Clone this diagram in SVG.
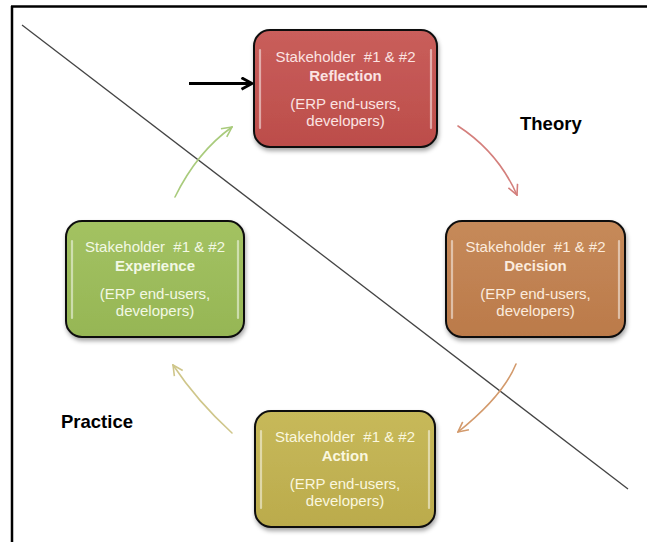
<svg xmlns="http://www.w3.org/2000/svg" width="647" height="542" viewBox="0 0 647 542">
<defs>
<style>
.node rect.box{stroke:#111;stroke-width:2}
.hl{stroke:#fff;stroke-width:2.2;stroke-linecap:round;opacity:0.5;fill:none}
.t{font-family:"Liberation Sans",Arial,sans-serif;font-size:15px;text-anchor:middle;white-space:pre}
.b{font-weight:bold}
.lbl{font-family:"Liberation Sans",Arial,sans-serif;font-size:18.5px;font-weight:bold;fill:#000}
.conn{fill:none;stroke-width:1.6;stroke-linecap:round}
</style>
<filter id="sh" x="-10%" y="-10%" width="125%" height="130%">
<feDropShadow dx="1" dy="3" stdDeviation="2" flood-color="#000" flood-opacity="0.35"/>
</filter>
<linearGradient id="gR" x1="0" y1="0" x2="0" y2="1"><stop offset="0" stop-color="#C95E5B"/><stop offset="1" stop-color="#BC4D4A"/></linearGradient>
<linearGradient id="gD" x1="0" y1="0" x2="0" y2="1"><stop offset="0" stop-color="#C68A5A"/><stop offset="1" stop-color="#BB7A4A"/></linearGradient>
<linearGradient id="gE" x1="0" y1="0" x2="0" y2="1"><stop offset="0" stop-color="#A3C262"/><stop offset="1" stop-color="#96B655"/></linearGradient>
<linearGradient id="gA" x1="0" y1="0" x2="0" y2="1"><stop offset="0" stop-color="#C7B95A"/><stop offset="1" stop-color="#BBAB4C"/></linearGradient>
<marker id="mR" viewBox="0 0 12 12" refX="11" refY="6" markerWidth="12" markerHeight="12" markerUnits="userSpaceOnUse" orient="auto"><path d="M1,1 L11,6 L1,11" fill="none" stroke="#D47F7C" stroke-width="1.6"/></marker>
<marker id="mO" viewBox="0 0 12 12" refX="11" refY="6" markerWidth="12" markerHeight="12" markerUnits="userSpaceOnUse" orient="auto"><path d="M1,1 L11,6 L1,11" fill="none" stroke="#D39A6C" stroke-width="1.6"/></marker>
<marker id="mY" viewBox="0 0 12 12" refX="11" refY="6" markerWidth="12" markerHeight="12" markerUnits="userSpaceOnUse" orient="auto"><path d="M1,1 L11,6 L1,11" fill="none" stroke="#CFC68A" stroke-width="1.6"/></marker>
<marker id="mG" viewBox="0 0 12 12" refX="11" refY="6" markerWidth="12" markerHeight="12" markerUnits="userSpaceOnUse" orient="auto"><path d="M1,1 L11,6 L1,11" fill="none" stroke="#A9CB7C" stroke-width="1.6"/></marker>
<marker id="mK" viewBox="0 0 12 12" refX="11" refY="6" markerWidth="14" markerHeight="14" markerUnits="userSpaceOnUse" orient="auto"><path d="M2,1 L11,6 L2,11" fill="none" stroke="#000" stroke-width="2.4" stroke-linejoin="round"/></marker>
</defs>
<rect x="0" y="0" width="647" height="542" fill="#fff"/>
<g id="frame">
<line x1="11" y1="6.5" x2="647" y2="6.5" stroke="#000" stroke-width="2.5"/>
<line x1="12" y1="6" x2="12" y2="542" stroke="#000" stroke-width="2.5"/>
</g>
<g id="divider">
<line x1="22" y1="25" x2="628" y2="489" stroke="#444" stroke-width="1.3"/>
</g>
<g id="connectors">
<path class="conn" d="M458,126 Q498,152 517,195" stroke="#D47F7C" marker-end="url(#mR)"/>
<path class="conn" d="M516,364 Q503,396 458,432" stroke="#D39A6C" marker-end="url(#mO)"/>
<path class="conn" d="M232,433 Q197,401 173,365" stroke="#CFC68A" marker-end="url(#mY)"/>
<path class="conn" d="M175,197 Q197,152 232,127" stroke="#A9CB7C" marker-end="url(#mG)"/>
<line x1="189" y1="83.5" x2="252" y2="83.5" stroke="#000" stroke-width="3" marker-end="url(#mK)"/>
</g>
<g id="reflection" class="node">
<rect class="box" x="254" y="30" width="183" height="117" rx="16" fill="url(#gR)" filter="url(#sh)"/>
<path class="hl" d="M260,50 V128 M431,50 V128"/>
<text class="t" x="345.5" y="62" fill="#FBE3E2">Stakeholder  #1 &amp; #2</text>
<text class="t b" x="345.5" y="81" fill="#FBE3E2">Reflection</text>
<text class="t" x="345.5" y="109" fill="#FBE3E2">(ERP end-users,</text>
<text class="t" x="345.5" y="126" fill="#FBE3E2">developers)</text>
</g>
<g id="decision" class="node">
<rect class="box" x="446" y="221" width="179" height="116" rx="16" fill="url(#gD)" filter="url(#sh)"/>
<path class="hl" d="M452,241 V318 M619,241 V318"/>
<text class="t" x="535.5" y="252" fill="#FBEBDD">Stakeholder  #1 &amp; #2</text>
<text class="t b" x="535.5" y="271" fill="#FBEBDD">Decision</text>
<text class="t" x="535.5" y="299" fill="#FBEBDD">(ERP end-users,</text>
<text class="t" x="535.5" y="316" fill="#FBEBDD">developers)</text>
</g>
<g id="experience" class="node">
<rect class="box" x="66" y="221" width="178" height="116" rx="16" fill="url(#gE)" filter="url(#sh)"/>
<path class="hl" d="M72,241 V318 M238,241 V318"/>
<text class="t" x="155" y="252" fill="#F2F8E4">Stakeholder  #1 &amp; #2</text>
<text class="t b" x="155" y="271" fill="#F2F8E4">Experience</text>
<text class="t" x="155" y="299" fill="#F2F8E4">(ERP end-users,</text>
<text class="t" x="155" y="316" fill="#F2F8E4">developers)</text>
</g>
<g id="action" class="node">
<rect class="box" x="255" y="411" width="180" height="116" rx="16" fill="url(#gA)" filter="url(#sh)"/>
<path class="hl" d="M261,431 V508 M429,431 V508"/>
<text class="t" x="345" y="442" fill="#FAF7DF">Stakeholder  #1 &amp; #2</text>
<text class="t b" x="345" y="461" fill="#FAF7DF">Action</text>
<text class="t" x="345" y="489" fill="#FAF7DF">(ERP end-users,</text>
<text class="t" x="345" y="506" fill="#FAF7DF">developers)</text>
</g>
<g id="labels">
<text class="lbl" x="520" y="130">Theory</text>
<text class="lbl" x="61" y="428">Practice</text>
</g>
</svg>
